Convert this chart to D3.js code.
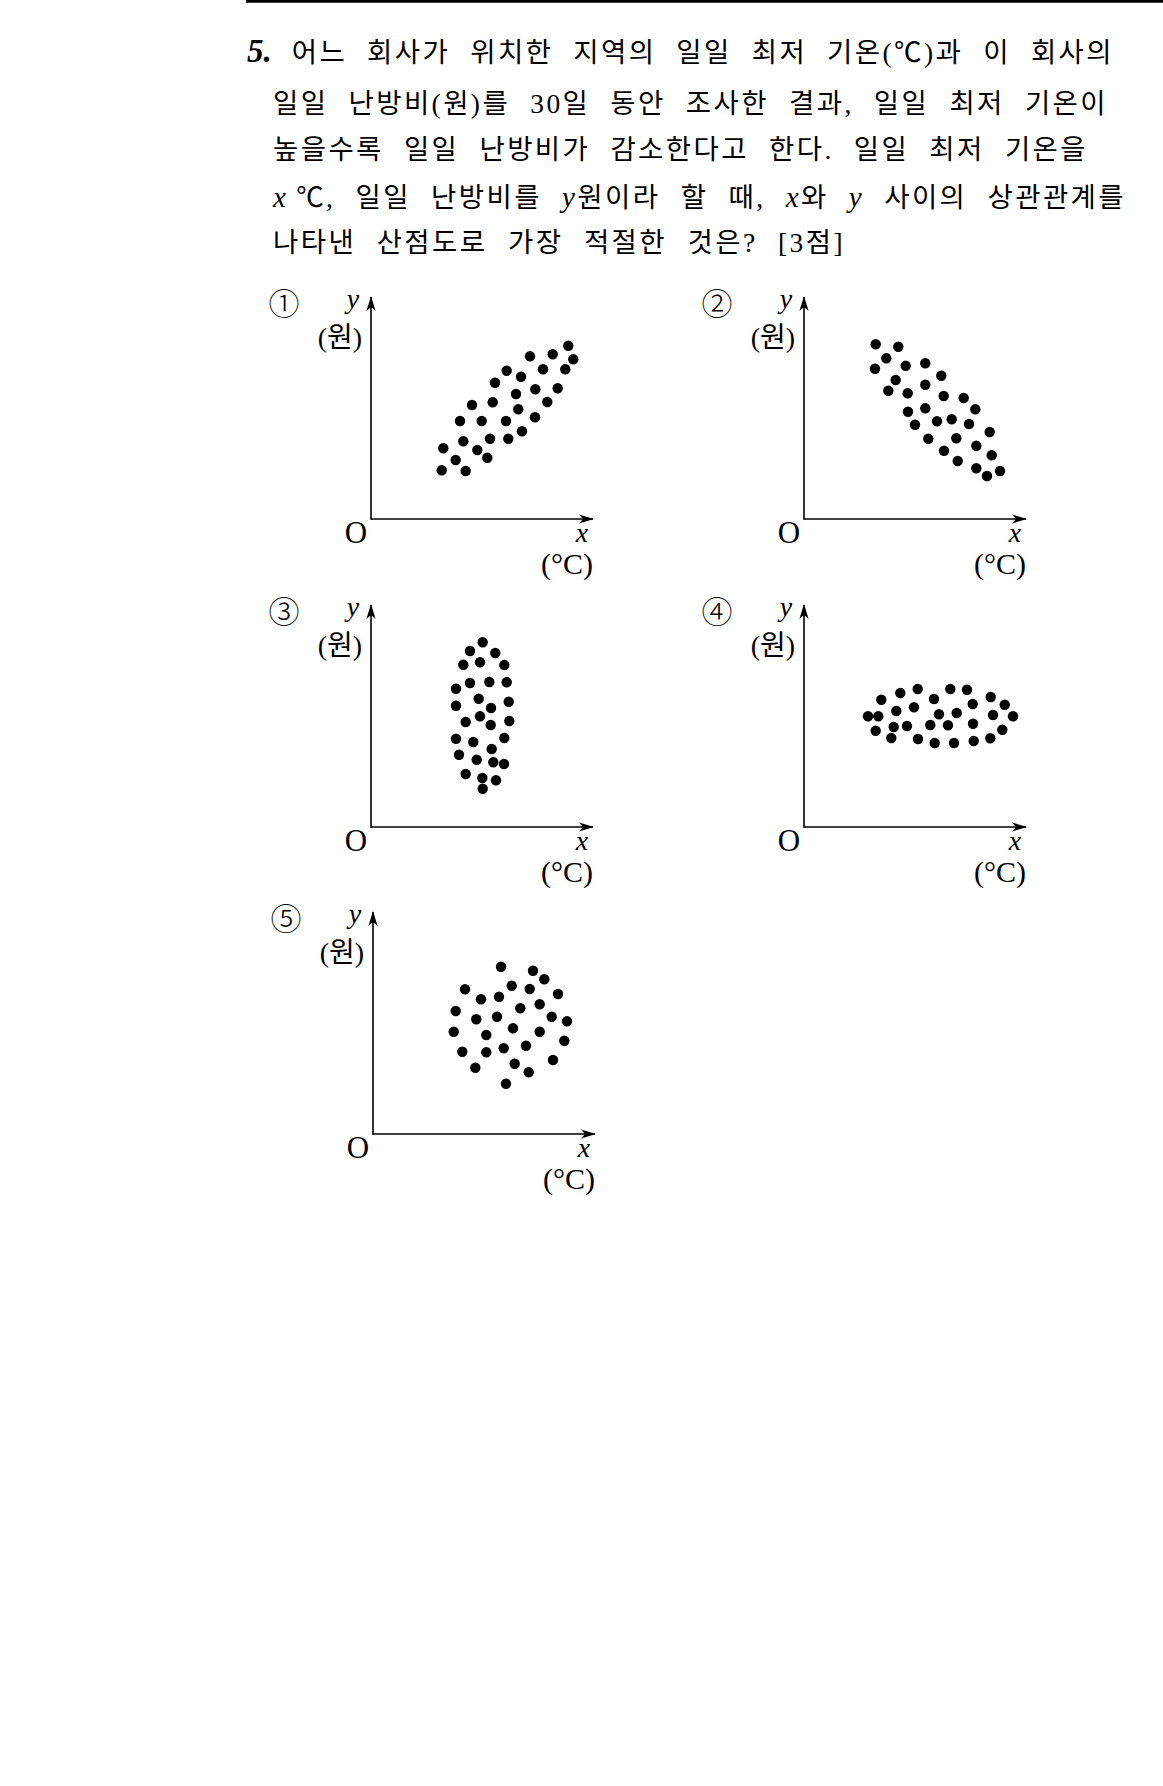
<!DOCTYPE html>
<html><head><meta charset="utf-8">
<script src="https://cdn.jsdelivr.net/npm/d3@7"></script>
<style>html,body{margin:0;padding:0;background:#fff}svg{display:block}</style>
</head><body>
<script>
// ---------- question text ----------
const questionLines = [
  [["5.","b"],[" 어느 회사가 위치한 지역의 일일 최저 기온(℃)과 이 회사의"]],
  [["일일 난방비(원)를 30일 동안 조사한 결과, 일일 최저 기온이"]],
  [["높을수록 일일 난방비가 감소한다고 한다. 일일 최저 기온을"]],
  [["x","i"],["\u2009℃, 일일 난방비를 "],["y","i"],["원이라 할 때, "],["x","i"],["와 "],["y","i"],[" 사이의 상관관계를"]],
  [["나타낸 산점도로 가장 적절한 것은? [3점]"]]
];
const lineRightEdges = [1114, 1108, 1088, 1126, 845];

// ---------- chart labels ----------
const choiceMarks = ["①","②","③","④","⑤"];
const yName = "y", yUnit = "(원)", xName = "x", xUnit = "(°C)", originName = "O";
const axisMax = 222;

// ---------- scatter data (x: 기온, y: 난방비, arbitrary units) ----------
const scatter1X = [197.3,181.7,202.3,159,172,194.3,135.7,150,124,164.3,186.7,145,121.7,101,176.3,147.3,89,110.7,135,164,151,119,137.3,92.3,72.3,106.3,116.3,84.7,70.7,94.7];
const scatter1Y = [173.3,164.7,159.7,162.7,149.7,149.7,148.3,142.3,136.3,129.7,130.7,125,116.7,114,117,109.7,98,98,98,101.7,87.7,80.3,80.3,77.7,70.7,69,61.3,59,48.7,48];

const scatter2X = [71.7,94.3,82.3,71,101.7,121.3,137.3,91.7,121.3,84.3,103.7,139.7,159.7,104,121.3,171.3,111,133,147.7,165,185.7,124.3,152.3,172.3,140,187.7,153.7,172.3,183,196];
const scatter2Y = [174.7,172.3,160.7,150.3,153.3,155.7,143.3,139,134.3,128.3,125.7,123,121,107.3,110.7,109.7,94.3,97.7,99.7,95,87,80.3,80.7,73.3,68.3,63.7,58,50.7,43,48];

const scatter3X = [111.7,99,124.3,92.3,109,133.3,99,118.3,135.7,85,107.7,137.7,85,120,109,94.7,119.7,138.3,85,102.3,133.3,120.7,88,105.7,122.3,133,94.7,111.3,125,111.7];
const scatter3Y = [184.7,176,174,162.3,164.7,162,144,145,144.7,138.3,128.3,125.3,121.3,119,110.7,105,102,106,88.3,85,89,78,72.3,67.3,64.7,63,53,49,46.7,38.3];

const scatter4X = [113.7,96.3,146.3,163,77.3,130,186.7,168.7,200.7,110,92.3,64,74.3,135,152.7,189,209,103,89.7,126.3,144,169,71.7,198.3,87.3,114,130.7,150,169.7,186.3];
const scatter4Y = [138,134,138,137.3,127.3,128,130,123,122.3,119.7,116,110.7,110.7,112.7,114,112,110.7,101,100,102,101.7,103.3,96.3,97.3,89,88,84,84,86,88.7];

const scatter5X = [128,160,171.3,138.7,156.7,92,185,126,108,166.7,147.3,82.7,103.3,124,178.7,194,80.7,140,166.7,113.3,191.3,89.3,113.3,130.7,153,180,141.7,102.3,155.7,133];
const scatter5Y = [167.3,163.3,154.7,148.3,145,144.7,140,137.3,134.7,129.7,125.7,123,114.7,117.3,117.3,112.7,102.3,105.7,102.3,99,93.3,82.3,81.7,85.7,88.3,74,70.3,66.3,61.7,50.3];

const scatterX = [scatter1X, scatter2X, scatter3X, scatter4X, scatter5X];
const scatterY = [scatter1Y, scatter2Y, scatter3Y, scatter4Y, scatter5Y];

// ---------- layout ----------
const W = 1163, H = 1786;
const panelOrigins = [[371,519],[804,519],[371,827],[804,827],[373,1134]];
const textStart = [247, 273, 273, 273, 273];
const lineBaselines = [62, 113, 159, 207, 252];
const serifFamily = "'Liberation Serif','Noto Sans CJK KR',serif";
const bodyFamily = "'Liberation Serif','Noto Sans CJK KR',serif";

const svg = d3.select("body").append("svg").attr("width", W).attr("height", H);
svg.append("rect").attr("width", W).attr("height", H).attr("fill", "#fff");

// top rule
svg.append("line").attr("x1", 246).attr("x2", W).attr("y1", 1.4).attr("y2", 1.4)
  .attr("stroke", "#000").attr("stroke-width", 2.8);

// arrow marker
const defs = svg.append("defs");
defs.append("marker").attr("id", "arrow")
  .attr("markerUnits", "userSpaceOnUse")
  .attr("viewBox", "-15 -5 16 10").attr("refX", 0).attr("refY", 0)
  .attr("markerWidth", 16).attr("markerHeight", 10).attr("orient", "auto")
  .append("path").attr("d", "M1,0 L-14,-4.6 L-10,0 L-14,4.6 Z").attr("fill", "#000");

// split a line into words, each word = list of styled pieces
function toWords(segs) {
  const words = [[]];
  segs.forEach(([s, st]) => {
    const parts = s.split(" ");
    parts.forEach((p, j) => {
      if (j > 0) words.push([]);
      if (p.length) words[words.length - 1].push([p, st]);
    });
  });
  return words.filter(w => w.length);
}

// question text (justified word by word)
questionLines.forEach((segs, i) => {
  const words = toWords(segs);
  const g = svg.append("g");
  const nodes = words.map(w => {
    const t = g.append("text").attr("y", lineBaselines[i])
      .attr("font-family", bodyFamily).attr("font-size", 27.5).attr("fill", "#000")
      .attr("letter-spacing", 2.4).style("white-space", "pre");
    w.forEach(([s, st]) => {
      const ts = t.append("tspan").text(s);
      if (st === "i") ts.attr("font-style", "italic").attr("font-size", 29);
      if (st === "b") ts.attr("font-style", "italic").attr("font-weight", "bold").attr("font-size", 33).attr("letter-spacing", 0);
    });
    return t;
  });
  const widths = nodes.map(n => n.node().getComputedTextLength());
  const total = d3.sum(widths);
  const gap = (lineRightEdges[i] - textStart[i] - total) / (words.length - 1);
  let cx = textStart[i];
  nodes.forEach((n, j) => { n.attr("x", cx); cx += widths[j] + gap; });
});

// panels
panelOrigins.forEach(([ox, oy], k) => {
  const x = d3.scaleLinear().domain([0, axisMax]).range([ox, ox + axisMax]);
  const y = d3.scaleLinear().domain([0, axisMax]).range([oy, oy - axisMax]);
  const g = svg.append("g");

  g.append("line").attr("x1", x(0)).attr("y1", y(0)).attr("x2", x(axisMax)).attr("y2", y(0))
    .attr("stroke", "#000").attr("stroke-width", 1.6).attr("marker-end", "url(#arrow)");
  g.append("line").attr("x1", x(0)).attr("y1", y(0) + 0.8).attr("x2", x(0)).attr("y2", y(axisMax))
    .attr("stroke", "#000").attr("stroke-width", 1.6).attr("marker-end", "url(#arrow)");

  // labels
  g.append("text").attr("x", x(0) - 87).attr("y", y(0) - 204).attr("text-anchor", "middle")
    .attr("font-family", "'DejaVu Sans','Noto Sans CJK KR',sans-serif").attr("font-weight", 200).attr("font-size", 31).text(choiceMarks[k]);
  g.append("text").attr("x", x(0) - 18).attr("y", y(0) - 211).attr("text-anchor", "middle")
    .attr("font-family", serifFamily).attr("font-style", "italic").attr("font-size", 28).text(yName);
  g.append("text").attr("x", x(0) - 31).attr("y", y(0) - 172).attr("text-anchor", "middle")
    .attr("font-family", serifFamily).attr("font-size", 28).text(yUnit);
  g.append("text").attr("x", x(0) - 15).attr("y", y(0) + 24).attr("text-anchor", "middle")
    .attr("font-family", serifFamily).attr("font-size", 31).text(originName);
  g.append("text").attr("x", x(axisMax) - 11).attr("y", y(0) + 23).attr("text-anchor", "middle")
    .attr("font-family", serifFamily).attr("font-style", "italic").attr("font-size", 28).text(xName);
  g.append("text").attr("x", x(axisMax) - 26).attr("y", y(0) + 55).attr("text-anchor", "middle")
    .attr("font-family", serifFamily).attr("font-size", 30).text(xUnit);

  const pts = d3.zip(scatterX[k], scatterY[k]);
  g.selectAll("circle").data(pts).join("circle")
    .attr("cx", d => x(d[0])).attr("cy", d => y(d[1])).attr("r", 5.2).attr("fill", "#000");
});
</script>
</body></html>
